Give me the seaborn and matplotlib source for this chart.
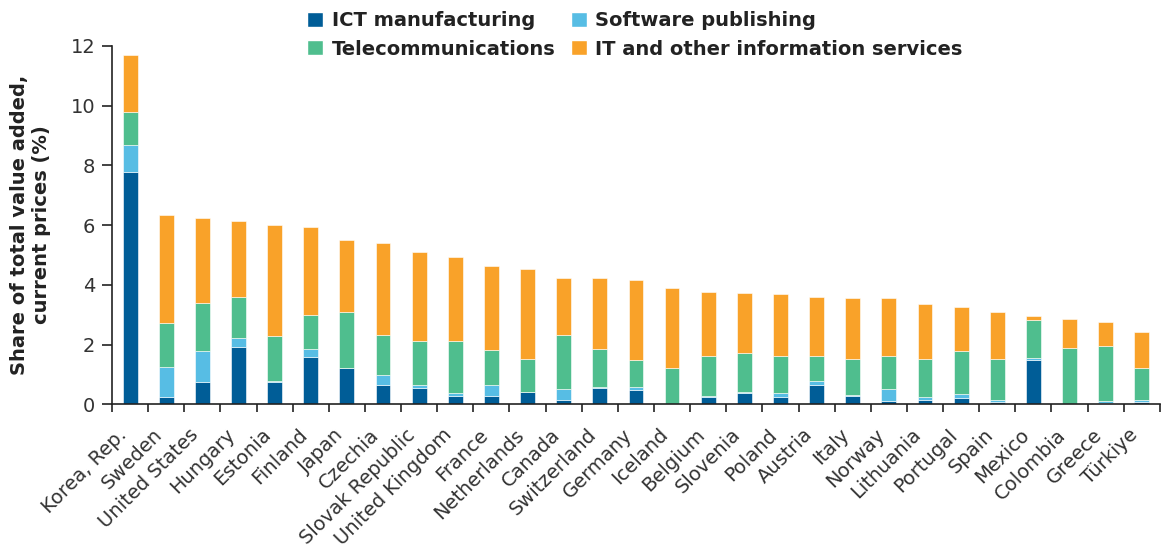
import numpy as np
import pandas as pd
import matplotlib.pyplot as plt
import seaborn as sns
from matplotlib.patches import Patch

# values (share of total value added, %)
countries = ["Korea, Rep.", "Sweden", "United States", "Hungary", "Estonia", "Finland",
             "Japan", "Czechia", "Slovak Republic", "United Kingdom", "France",
             "Netherlands", "Canada", "Switzerland", "Germany", "Iceland", "Belgium",
             "Slovenia", "Poland", "Austria", "Italy", "Norway", "Lithuania", "Portugal",
             "Spain", "Mexico", "Colombia", "Greece", "Türkiye"]
ict_manuf = [7.77, 0.26, 0.76, 1.93, 0.76, 1.58, 1.22, 0.64, 0.56, 0.29, 0.27,
             0.41, 0.15, 0.56, 0.48, 0.0, 0.26, 0.39, 0.26, 0.64, 0.29, 0.11,
             0.16, 0.21, 0.07, 1.48, 0.0, 0.03, 0.07]
software = [0.90, 1.00, 1.01, 0.28, 0.02, 0.27, 0.0, 0.34, 0.08, 0.08, 0.37,
            0.0, 0.35, 0.02, 0.09, 0.0, 0.03, 0.02, 0.11, 0.13, 0.02, 0.39,
            0.07, 0.12, 0.06, 0.07, 0.0, 0.08, 0.08]
telecom = [1.13, 1.47, 1.61, 1.37, 1.52, 1.15, 1.86, 1.34, 1.48, 1.76, 1.18,
           1.12, 1.82, 1.26, 0.91, 1.23, 1.34, 1.30, 1.23, 0.86, 1.19, 1.13,
           1.27, 1.46, 1.40, 1.28, 1.90, 1.85, 1.08]
it_services = [1.90, 3.61, 2.85, 2.57, 3.69, 2.94, 2.43, 3.07, 2.98, 2.80, 2.80,
               3.01, 1.92, 2.40, 2.68, 2.65, 2.12, 2.03, 2.08, 1.95, 2.05, 1.92,
               1.87, 1.47, 1.55, 0.13, 0.97, 0.79, 1.18]

series = ["ICT manufacturing", "Software publishing", "Telecommunications",
          "IT and other information services"]
colors = ["#005D97", "#57BDE4", "#4FBE8E", "#F9A229"]

df = pd.DataFrame({"country": countries, series[0]: ict_manuf, series[1]: software,
                   series[2]: telecom, series[3]: it_services})

sns.set_style("white")
plt.rcParams['font.family'] = ['DejaVu Sans']

fig = plt.figure(figsize=(11.61, 5.52), dpi=100)
ax = fig.add_axes([0.0965, 0.2676, 0.9025, 0.6494])

# stack the four segments
bottom = np.zeros(len(df))
for name, col in zip(series, colors):
    sns.barplot(data=df, x="country", y=name, color=col, width=0.41,
                bottom=bottom, ax=ax, edgecolor="white", linewidth=0.4,
                errorbar=None, saturation=1)
    bottom = bottom + df[name].values

ax.set_ylim(0, 12)
ax.set_xlim(-0.5, len(countries) - 0.5)
ax.set_yticks(range(0, 13, 2))
ax.tick_params(axis="y", labelsize=14, length=7, width=1.2, color="#222222",
               labelcolor="#333333", direction="out", left=True, pad=5)
ax.set_xticks(range(len(countries)))
ax.set_xticklabels(countries, rotation=45, ha="right", rotation_mode="default",
                   fontsize=14, color="#333333")
ax.tick_params(axis="x", which="major", length=0, pad=15)
ax.set_xticks(np.arange(-0.5, len(countries)), minor=True)
ax.tick_params(axis="x", which="minor", length=6, width=1.2, color="#222222",
               bottom=True, direction="out")
ax.set_xlabel("")
ax.set_ylabel("Share of total value added,\ncurrent prices (%)", fontsize=14,
              fontweight="bold", color="#222222", labelpad=14)
sns.despine(ax=ax)
for s in ["left", "bottom"]:
    ax.spines[s].set_color("#222222")
    ax.spines[s].set_linewidth(1.2)

order = [0, 2, 1, 3]
handles = [Patch(facecolor=colors[i], label=series[i]) for i in order]
fig.legend(handles=handles, ncol=2, loc="center", bbox_to_anchor=(0.547, 0.937),
           frameon=False, prop={"size": 14, "weight": "bold"},
           handlelength=0.8, handleheight=0.8, handletextpad=0.45,
           columnspacing=0.8, labelspacing=0.5, labelcolor="#222222")

fig.savefig("out.png", dpi=100)
